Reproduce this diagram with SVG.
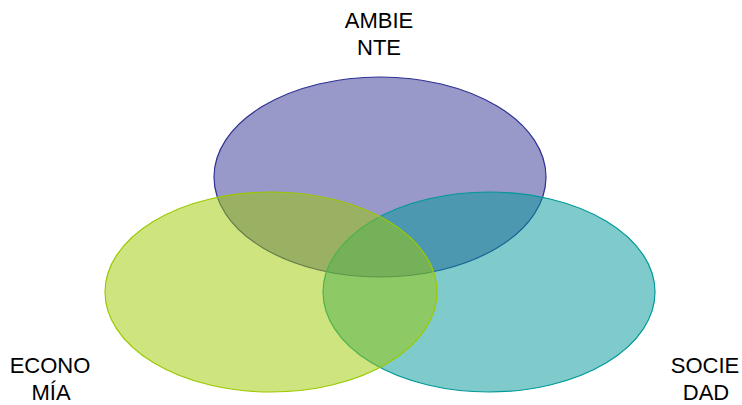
<svg xmlns="http://www.w3.org/2000/svg" width="742" height="405" viewBox="0 0 742 405">
<style>
text{font-family:"Liberation Sans",Arial,sans-serif;font-size:22px;fill:#000;text-anchor:middle}
.c{stroke-width:1.2}
</style>
<rect width="742" height="405" fill="#fff"/>
<g id="ambiente">
<ellipse class="c" cx="380" cy="177" rx="166" ry="100" fill="#313193" fill-opacity="0.5" stroke="#2e3192"/>
<text x="379" y="28">AMBIE</text>
<text x="379" y="55">NTE</text>
</g>
<g id="sociedad">
<ellipse class="c" cx="489" cy="292" rx="166" ry="100" fill="#009797" fill-opacity="0.5" stroke="#009999"/>
<text x="705" y="373">SOCIE</text>
<text x="706" y="400">DAD</text>
</g>
<g id="economia">
<ellipse class="c" cx="271" cy="292" rx="166" ry="100" fill="#9bc900" fill-opacity="0.5" stroke="#9bc900"/>
<text x="50" y="373">ECONO</text>
<text x="51" y="400">MÍA</text>
</g>
<g id="connectors"></g>
</svg>
